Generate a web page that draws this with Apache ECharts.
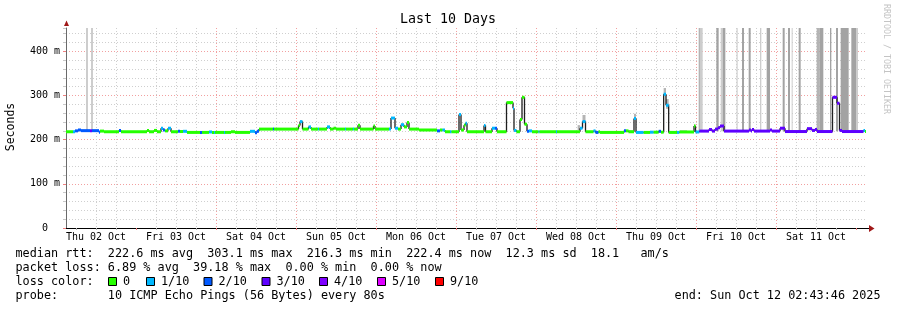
<!DOCTYPE html>
<html><head><meta charset="utf-8">
<script src="https://cdn.jsdelivr.net/npm/echarts@6.0.0/dist/echarts.min.js"></script>
<style>html,body{margin:0;padding:0;background:#fff}#c{width:897px;height:310px}</style>
</head><body><div id="c"></div>
<script>
// x unit: hours since Thu 02 Oct 00:00
const dayLabels = ['Thu 02 Oct','Fri 03 Oct','Sat 04 Oct','Sun 05 Oct','Mon 06 Oct','Tue 07 Oct','Wed 08 Oct','Thu 09 Oct','Fri 10 Oct','Sat 11 Oct'];
const dayNoon = [12,36,60,84,108,132,156,180,204,228];
const startTime = 3, endTime = 243;
const yMax = 453;

const medTime = [3.0,5.1,5.7,6.6,7.5,10.2,10.8,12.9,13.2,14.4,18.9,19.5,27.3,27.9,29.4,30.3,31.5,32.1,32.7,33.6,34.5,36.6,37.2,38.1,39.3,43.2,43.8,45.9,46.8,47.4,47.7,50.4,50.7,52.5,53.7,58.2,59.7,60.3,60.9,65.1,65.4,72.75,73.2,73.95,75.75,76.5,78.6,78.9,81.3,82.2,83.25,84.0,86.7,87.0,89.1,89.4,90.6,91.2,95.25,95.7,99.9,100.5,101.7,102.6,103.5,104.4,105.3,105.9,108.9,114.3,115.2,115.95,116.7,118.2,118.65,120.9,121.5,122.4,122.85,123.3,128.4,128.85,130.8,131.7,132.3,135.15,137.1,137.4,138.15,139.2,139.8,140.55,141.3,141.9,142.8,144.75,145.05,150.0,150.3,157.2,157.95,158.85,161.25,161.85,162.75,163.2,170.4,171.0,171.75,173.4,174.0,176.3,178.2,179.3,180.8,181.5,182.3,183.0,183.8,186.3,187.0,191.4,191.85,193.0,195.9,196.8,197.7,198.6,199.2,200.4,207.9,208.5,208.8,209.4,214.2,214.8,217.2,218.7,225.3,226.8,227.7,228.3,232.95,234.3,235.05,235.8,240.9,242.25,242.7];
const medValue = [218,218,220,222,220.5,220.5,220.5,217,219.5,218,221,218,221,218,221,218,226,222,220,226,218,219,218.5,219,216.5,216.5,216.5,217.5,216.5,216.5,216.5,216.5,216.5,218,216.5,219,215.5,219,224,224,224,232,241,224,229,224,224,224,229,224,226,224,224,224,224,224,233,224,231,224,224,249,226,224,234,229,239,224,222,220,222,222,218,218,218,257,222,233,237,218,232,218,226,226,218,284,271,221,218,246,296,235,219,220,218,218,218,218,218,226,241,218,220,216.5,218,216.5,220,220,218,248,216.5,216.5,217,217,219,217,303,278,216.5,216.5,217.5,231,217.5,219.5,223,219.5,224,227,231,219.5,222,219.5,223,219.5,222,219.5,226,218.5,225,221,223,218.5,296,282.6,221,218.5,218.5,221,218.5];
const medLoss = [0,1,2,2,2,3,2,2,0,0,2,0,0,0,0,0,1,2,0,1,0,2,0,1,0,2,0,1,0,1,0,1,0,0,0,1,2,2,0,2,0,0,1,0,1,0,1,0,1,0,0,0,1,0,1,0,0,0,0,0,1,1,1,0,1,0,0,0,0,2,0,1,0,1,0,1,0,0,1,0,1,0,1,2,0,0,1,1,0,0,0,0,2,1,0,1,0,1,0,1,1,0,1,2,0,0,2,0,0,1,1,0,1,0,2,0,1,1,0,1,0,0,1,3,3,3,3,3,3,3,3,3,3,3,3,3,3,3,3,3,3,3,3,3,3,3,3,1,0,1];

const smokeStart = [9.0,10.5,156.5,157.95,171.75,173.4,182.3,183.0,187.2,191.4,192.8,193.4,198.1,199.4,200.0,204.15,205.8,207.8,211.2,213.2,218.0,219.6,220.7,222.8,228.2,229.0,232.2,234.0,235.4,238.6,240.0];
const smokeEnd   = [9.6,11.1,157.2,158.85,173.2,174.0,183.0,183.8,189.3,191.8,193.4,194.0,198.8,200.0,200.8,204.5,206.4,208.4,211.6,214.2,218.6,220.2,221.0,223.4,229.0,230.2,232.6,234.6,237.8,240.0,240.6];
const smokeLow   = [221,221,222,241,219,248,300,270,218,231,219,219,219,219,219,219,219,219,219,219,219,219,219,219,219,219,219,219,219,219,219];
const smokeHigh  = [460,460,233,256,222,259,317,292,222,235,460,460,460,460,460,460,460,460,460,460,460,460,460,460,460,460,460,460,460,460,460];
const smokeShade = [0,0,1,1,0,1,1,1,0,0,1,0,2,0,2,0,2,2,0,2,2,2,0,2,1,2,2,2,2,2,0];
const smokeColors = ['#cdcdcd','#b4b4b4','#a3a3a3'];

const lossLevels = [0,1,2,3,4,5,9];
const lossLabels = ['0','1/10','2/10','3/10','4/10','5/10','9/10'];
const lossColors = ['#26ff00','#00b8ff','#0059ff','#5e00ff','#7e00ff','#dd00ff','#ff0000'];

const rttLine  = 'median rtt:  222.6 ms avg  303.1 ms max  216.3 ms min  222.4 ms now  12.3 ms sd  18.1   am/s';
const lossLine = 'packet loss: 6.89 % avg  39.18 % max  0.00 % min  0.00 % now';
const probeLine = 'probe:       10 ICMP Echo Pings (56 Bytes) every 80s';
const endLine = 'end: Sun Oct 12 02:43:46 2025';

const MONO = '"DejaVu Sans Mono", monospace';

const stepData = medTime.map((t, i) => {
  const last = i === medTime.length - 1;
  return [t, last ? endTime : medTime[i+1], medValue[i], last ? medValue[i] : medValue[i+1],
          lossLevels.indexOf(medLoss[i])];
});
const smokeData = smokeStart.map((s, i) => [s, smokeEnd[i], smokeLow[i], smokeHigh[i], smokeShade[i]]);

const minorX = [], majorX = [];
for (let h = 6; h < endTime; h += 6) { if (h % 24 === 0) majorX.push(h); else if (h > startTime) minorX.push(h); }

function renderSmoke(params, api) {
  const p0 = api.coord([api.value(0), api.value(3)]);
  const p1 = api.coord([api.value(1), api.value(2)]);
  return {type:'rect', shape:{x:p0[0], y:p0[1], width:p1[0]-p0[0], height:p1[1]-p0[1]}, style:{fill:smokeColors[api.value(4)]}};
}
function renderBlack(params, api) {
  const p0 = api.coord([api.value(0), api.value(2)]);
  const p1 = api.coord([api.value(1), api.value(2)]);
  const p2 = api.coord([api.value(1), api.value(3)]);
  return {type:'group', children:[
    {type:'line', shape:{x1:p0[0], y1:p0[1], x2:p1[0], y2:p1[1]}, style:{stroke:'#1e1e1e', lineWidth:1}},
    {type:'line', shape:{x1:p1[0], y1:p1[1], x2:p2[0], y2:p2[1]}, style:{stroke:'#1e1e1e', lineWidth:1.3}}
  ]};
}
function renderColor(params, api) {
  const p0 = api.coord([api.value(0), api.value(2)]);
  const p1 = api.coord([api.value(1), api.value(2)]);
  return {type:'rect', shape:{x:p0[0], y:p0[1]-1.5, width:p1[0]-p0[0], height:3}, style:{fill:lossColors[api.value(4)]}};
}

const graphics = [
  {type:'text', x:448, y:19.5, style:{text:'Last 10 Days', font:'13.3px ' + MONO, fill:'#000', align:'center', verticalAlign:'middle'}},
  {type:'text', x:11, y:127, rotation:Math.PI/2, style:{text:'Seconds', font:'11.5px ' + MONO, fill:'#000', align:'center', verticalAlign:'middle'}},
  {type:'text', x:886.5, y:4, rotation:-Math.PI/2, style:{text:'RRDTOOL / TOBI OETIKER', font:'8.3px ' + MONO, fill:'#c4c4c4', align:'left', verticalAlign:'middle'}},
  {type:'polygon', shape:{points:[[64,26],[66.5,20.5],[69,26]]}, style:{fill:'#a01818'}},
  {type:'line', shape:{x1:866, y1:228.5, x2:870, y2:228.5}, style:{stroke:'#000', lineWidth:1}},
  {type:'polygon', shape:{points:[[869,225],[874.5,228.5],[869,232]]}, style:{fill:'#a01818'}},
  {type:'text', x:15.5, y:254.3, style:{text:rttLine, font:'11.8px ' + MONO, fill:'#000', verticalAlign:'middle'}},
  {type:'text', x:15.5, y:268.3, style:{text:lossLine, font:'11.8px ' + MONO, fill:'#000', verticalAlign:'middle'}},
  {type:'text', x:15.5, y:282.3, style:{text:'loss color:', font:'11.8px ' + MONO, fill:'#000', verticalAlign:'middle'}},
  {type:'text', x:15.5, y:296.2, style:{text:probeLine, font:'11.8px ' + MONO, fill:'#000', verticalAlign:'middle'}},
  {type:'text', x:880.5, y:296.2, style:{text:endLine, font:'11.8px ' + MONO, fill:'#000', align:'right', verticalAlign:'middle'}}
];
const boxX = [108.5, 146.5, 204, 262, 319.5, 377.5, 435.5];
lossLabels.forEach((lab, i) => {
  graphics.push({type:'rect', shape:{x:boxX[i], y:277.5, width:8, height:8}, style:{fill:lossColors[i], stroke:'#000', lineWidth:1}});
  graphics.push({type:'text', x:boxX[i]+14.5, y:282.3, style:{text:lab, font:'11.8px ' + MONO, fill:'#000', verticalAlign:'middle'}});
});

const chart = echarts.init(document.getElementById('c'), null, {renderer:'canvas'});
chart.setOption({
  animation:false,
  backgroundColor:'#fff',
  grid:{left:66, top:28, width:800, height:200, containLabel:false, outerBoundsMode:'none'},
  xAxis:[
    {type:'value', min:startTime, max:endTime,
     axisLine:{show:true, onZero:false, lineStyle:{color:'#000', width:1}},
     axisTick:{show:true, customValues:minorX, length:2, lineStyle:{color:'#b0b0b0'}},
     splitLine:{show:true, showMinLine:false, showMaxLine:false, lineStyle:{color:'#cfcfcf', type:[1,2]}},
     axisLabel:{show:false}},
    {type:'value', min:startTime, max:endTime, position:'bottom',
     axisLine:{show:false},
     axisTick:{show:true, customValues:majorX, length:2, lineStyle:{color:'#f08080'}},
     splitLine:{show:true, showMinLine:false, showMaxLine:false, lineStyle:{color:'#f2a0a0', type:[1,2]}},
     axisLabel:{show:true, customValues:dayNoon, margin:4, color:'#000', fontFamily:MONO, fontSize:10,
       formatter:(v) => dayLabels[dayNoon.indexOf(v)] || ''}}
  ],
  yAxis:[
    {type:'value', min:0, max:yMax, interval:20,
     axisLine:{show:false},
     axisTick:{show:true, length:3, lineStyle:{color:'#c8c8c8'}},
     splitLine:{show:true, showMinLine:false, showMaxLine:false, lineStyle:{color:'#cfcfcf', type:[1,2]}},
     axisLabel:{show:false}},
    {type:'value', min:0, max:yMax, interval:100, position:'left',
     axisLine:{show:true, lineStyle:{color:'#6a6a6a'}},
     axisTick:{show:true, length:3, lineStyle:{color:'#f08080'}},
     splitLine:{show:true, showMinLine:false, showMaxLine:false, lineStyle:{color:'#f2a0a0', type:[1,2]}},
     axisLabel:{show:true, showMaxLabel:false, margin:6, color:'#000', fontFamily:MONO, fontSize:10,
       formatter:(v) => v === 0 ? '0  ' : v + ' m'}}
  ],
  series:[
    {type:'custom', name:'smoke', renderItem:renderSmoke, data:smokeData, clip:true, silent:true, z:2,
     encode:{x:[0,1], y:[2,3]}, xAxisIndex:0, yAxisIndex:0},
    {type:'custom', name:'median', renderItem:renderBlack, data:stepData, clip:true, silent:true, z:3,
     encode:{x:[0,1], y:[2,3]}, xAxisIndex:0, yAxisIndex:0},
    {type:'custom', name:'loss', renderItem:renderColor, data:stepData, clip:true, silent:true, z:4,
     encode:{x:[0,1], y:[2,3]}, xAxisIndex:0, yAxisIndex:0}
  ],
  graphic:graphics
});
</script></body></html>
